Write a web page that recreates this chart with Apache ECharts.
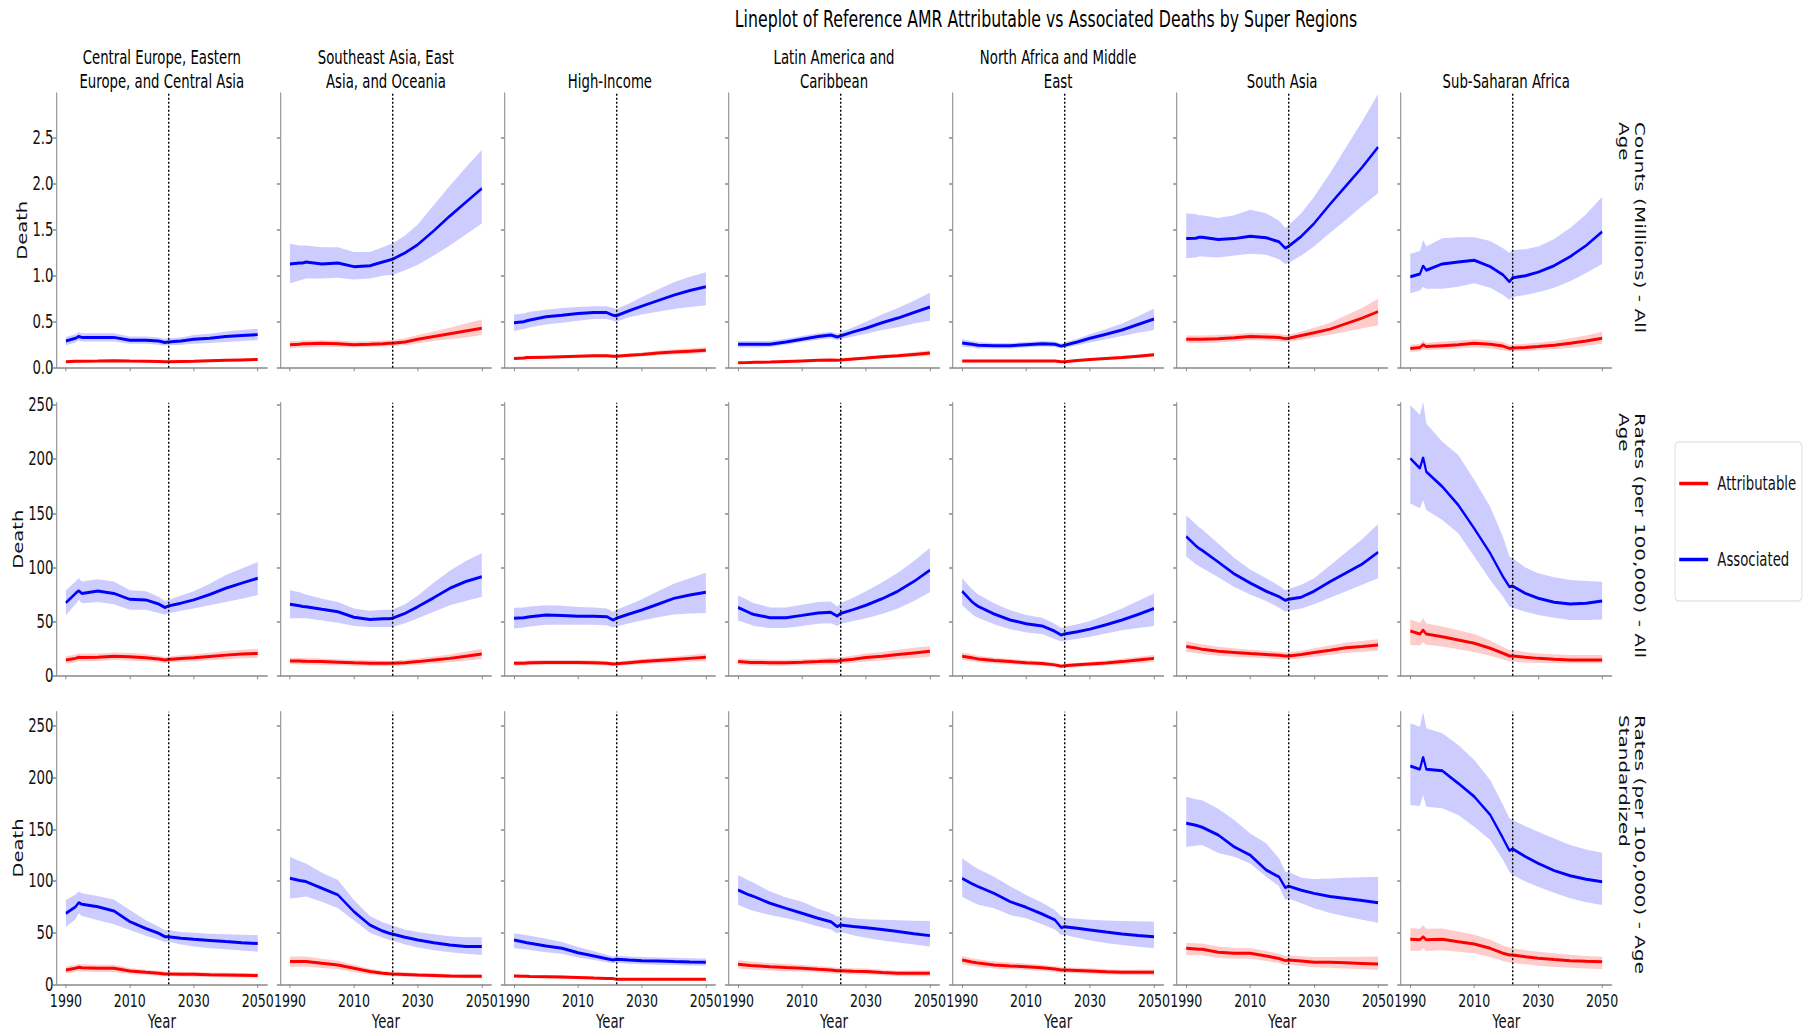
<!DOCTYPE html>
<html>
<head>
<meta charset="utf-8">
<script src="https://cdn.jsdelivr.net/npm/echarts@6/dist/echarts.min.js"></script>
<style>
html,body{margin:0;padding:0;overflow:hidden;background:#fff;width:1817px;height:1035px;}
#c{height:1035px;transform-origin:0 0;}
</style>
</head>
<body>
<div id="c"></div>
<script>
// ---------------- DATA ----------------
const YEARS = [1990, 1993, 1994, 1995, 2000, 2005, 2010, 2015, 2019, 2021, 2022, 2026, 2030, 2035, 2040, 2045, 2050];
const PROJECTION_YEAR = 2022;
const X_TICKS = [1990, 2010, 2030, 2050];
const Y_TICKS_COUNTS = [0, 0.5, 1.0, 1.5, 2.0, 2.5];
const Y_TICKS_RATES = [0, 50, 100, 150, 200, 250];
const REGIONS = [
  'Central Europe, Eastern\nEurope, and Central Asia',
  'Southeast Asia, East\nAsia, and Oceania',
  'High-Income',
  'Latin America and\nCaribbean',
  'North Africa and Middle\nEast',
  'South Asia',
  'Sub-Saharan Africa'
];
const ROW_LABELS = [
  'Counts (Millions) - All\nAge',
  'Rates (per 100,000) - All\nAge',
  'Rates (per 100,000) - Age\nStandardized'
];
const TITLE = 'Lineplot of Reference AMR Attributable vs Associated Deaths by Super Regions';

// Row 1: Counts (millions), one list per region (order of REGIONS)
const countsAssoc = [
  [0.29,0.32,0.34,0.33,0.33,0.33,0.30,0.30,0.29,0.275,0.28,0.29,0.31,0.32,0.34,0.35,0.36],
  [1.13,1.14,1.14,1.15,1.13,1.14,1.10,1.11,1.15,1.17,1.18,1.25,1.34,1.49,1.65,1.80,1.95],
  [0.49,0.50,0.51,0.52,0.555,0.57,0.59,0.60,0.60,0.57,0.565,0.62,0.67,0.73,0.79,0.84,0.88],
  [0.254,0.254,0.254,0.254,0.255,0.28,0.31,0.34,0.355,0.335,0.345,0.39,0.43,0.49,0.54,0.60,0.66],
  [0.27,0.255,0.25,0.245,0.24,0.24,0.25,0.26,0.255,0.235,0.245,0.28,0.32,0.365,0.41,0.47,0.53],
  [1.405,1.41,1.42,1.42,1.395,1.405,1.43,1.415,1.37,1.30,1.32,1.43,1.57,1.78,1.98,2.18,2.40],
  [0.99,1.02,1.11,1.06,1.13,1.15,1.17,1.10,1.01,0.935,0.98,1.00,1.04,1.11,1.21,1.33,1.48]
];
const countsAssocLo = [
  [0.245,0.275,0.295,0.285,0.285,0.285,0.26,0.26,0.25,0.24,0.245,0.25,0.26,0.27,0.28,0.29,0.30],
  [0.92,0.95,0.96,0.97,0.97,0.98,0.96,0.97,1.00,1.01,1.01,1.06,1.12,1.22,1.33,1.45,1.57],
  [0.40,0.42,0.43,0.44,0.47,0.49,0.51,0.53,0.53,0.51,0.50,0.55,0.58,0.61,0.64,0.66,0.68],
  [0.22,0.22,0.22,0.22,0.225,0.25,0.28,0.305,0.32,0.30,0.31,0.34,0.37,0.41,0.44,0.48,0.51],
  [0.23,0.22,0.215,0.21,0.21,0.21,0.22,0.23,0.225,0.21,0.215,0.245,0.275,0.31,0.345,0.38,0.41],
  [1.19,1.20,1.21,1.21,1.20,1.22,1.24,1.23,1.18,1.13,1.14,1.22,1.32,1.47,1.61,1.76,1.90],
  [0.81,0.84,0.88,0.86,0.86,0.88,0.92,0.87,0.79,0.74,0.77,0.79,0.82,0.87,0.94,1.03,1.13]
];
const countsAssocHi = [
  [0.335,0.365,0.385,0.375,0.375,0.375,0.34,0.34,0.33,0.315,0.32,0.33,0.355,0.37,0.395,0.41,0.425],
  [1.35,1.33,1.33,1.33,1.31,1.31,1.26,1.26,1.31,1.34,1.35,1.44,1.56,1.77,1.98,2.18,2.37],
  [0.58,0.59,0.60,0.61,0.63,0.65,0.66,0.67,0.67,0.65,0.64,0.70,0.77,0.85,0.93,0.99,1.04],
  [0.29,0.29,0.29,0.29,0.29,0.315,0.345,0.375,0.39,0.37,0.385,0.44,0.50,0.58,0.65,0.73,0.815],
  [0.31,0.29,0.285,0.28,0.27,0.27,0.28,0.29,0.285,0.26,0.275,0.315,0.365,0.42,0.48,0.56,0.645],
  [1.68,1.67,1.66,1.66,1.63,1.66,1.72,1.68,1.60,1.52,1.55,1.68,1.86,2.12,2.40,2.68,2.98],
  [1.24,1.27,1.39,1.32,1.41,1.42,1.42,1.38,1.30,1.25,1.28,1.29,1.32,1.40,1.52,1.67,1.86]
];
const countsAttr = [
  [0.065,0.07,0.07,0.07,0.072,0.075,0.072,0.07,0.068,0.065,0.065,0.068,0.07,0.075,0.08,0.085,0.09],
  [0.25,0.255,0.26,0.26,0.265,0.26,0.25,0.255,0.26,0.265,0.265,0.28,0.31,0.34,0.37,0.40,0.43],
  [0.10,0.105,0.11,0.11,0.115,0.12,0.125,0.13,0.13,0.125,0.125,0.135,0.145,0.16,0.17,0.18,0.19],
  [0.054,0.056,0.057,0.058,0.062,0.068,0.074,0.08,0.084,0.082,0.083,0.095,0.105,0.12,0.13,0.145,0.16],
  [0.072,0.072,0.072,0.072,0.072,0.072,0.072,0.073,0.072,0.065,0.066,0.078,0.09,0.10,0.11,0.125,0.14],
  [0.31,0.31,0.31,0.31,0.315,0.325,0.34,0.335,0.33,0.315,0.32,0.35,0.38,0.42,0.48,0.54,0.61],
  [0.21,0.22,0.25,0.23,0.24,0.25,0.265,0.255,0.235,0.21,0.215,0.22,0.23,0.245,0.265,0.29,0.32]
];
const countsAttrLo = [
  [0.055,0.06,0.06,0.06,0.062,0.064,0.062,0.06,0.058,0.055,0.055,0.058,0.06,0.064,0.068,0.072,0.075],
  [0.21,0.22,0.22,0.22,0.23,0.225,0.22,0.225,0.23,0.235,0.235,0.245,0.265,0.29,0.31,0.33,0.355],
  [0.085,0.09,0.09,0.095,0.10,0.105,0.11,0.115,0.115,0.11,0.11,0.115,0.125,0.135,0.145,0.15,0.16],
  [0.045,0.047,0.048,0.049,0.053,0.058,0.064,0.069,0.073,0.071,0.072,0.082,0.09,0.10,0.11,0.12,0.13],
  [0.062,0.062,0.062,0.062,0.062,0.062,0.062,0.063,0.062,0.056,0.057,0.068,0.078,0.087,0.095,0.107,0.12],
  [0.27,0.27,0.27,0.27,0.275,0.285,0.30,0.295,0.29,0.28,0.28,0.305,0.33,0.36,0.39,0.43,0.46],
  [0.17,0.18,0.20,0.19,0.20,0.21,0.22,0.21,0.19,0.175,0.18,0.185,0.19,0.20,0.215,0.235,0.26]
];
const countsAttrHi = [
  [0.075,0.08,0.08,0.08,0.082,0.086,0.082,0.08,0.078,0.075,0.075,0.078,0.08,0.086,0.092,0.098,0.105],
  [0.29,0.29,0.295,0.295,0.30,0.295,0.285,0.29,0.295,0.30,0.30,0.32,0.355,0.395,0.435,0.48,0.525],
  [0.115,0.12,0.125,0.125,0.13,0.135,0.14,0.145,0.145,0.14,0.14,0.155,0.165,0.185,0.20,0.21,0.225],
  [0.063,0.065,0.066,0.067,0.071,0.078,0.084,0.091,0.095,0.093,0.094,0.108,0.12,0.14,0.15,0.17,0.19],
  [0.082,0.082,0.082,0.082,0.082,0.082,0.082,0.083,0.082,0.074,0.075,0.088,0.102,0.114,0.126,0.143,0.16],
  [0.35,0.35,0.35,0.35,0.355,0.365,0.38,0.375,0.37,0.355,0.36,0.395,0.435,0.49,0.57,0.65,0.75],
  [0.25,0.26,0.30,0.27,0.285,0.295,0.31,0.30,0.28,0.25,0.255,0.26,0.275,0.29,0.32,0.35,0.39]
];

// Row 2: Rates per 100,000, all age
const ratesAssoc = [
  [67.4,76,78.5,76,78.2,76,70.5,70,66.2,63,64.3,67,70,75,80.7,85.5,90],
  [66,64.5,64,63.7,61.3,59,54,52,52.6,52.6,53,57.6,63.7,72,80.7,87,91.4],
  [53,53.5,54,54.5,56,55.5,55,55,54.5,51.4,53,57,60.7,66,71.4,74.5,77],
  [63,59,57.5,56.5,53.6,53.6,55.7,58,58.5,55,57.5,61,65,71,78,87,97.5],
  [78,68.5,66,64,57,51.5,48,46,41,37.5,38.6,40.5,43,47,51.5,56.5,62],
  [128.5,120,117.5,115.7,105,94,85.6,78,73,69.6,70.6,72.5,78,86.8,95,103,114],
  [200.7,191.5,201.7,188.4,174.6,157.6,136,113,91.4,82.2,82.8,76,71.5,67.8,66.2,66.8,69]
];
const ratesAssocLo = [
  [56,66,70,67,68,66,61,61,58,56.5,57.6,60,62,65,68,71,74.5],
  [53,53,53,53,51,49,46,45,45,45,45,48.5,53,59,65,69,73],
  [43.7,44.5,45,45.5,47,47,47,47,46.5,44.5,45.5,48.5,51,54,56.5,57.5,58],
  [51,48,47,46,44,44,46,48,48.5,46,48,50.5,53,57,62,69,77],
  [65,57,55,53.5,47.5,43,40,38.5,34,31.5,32.3,34,36,39,42,44,46],
  [110,103,101,99.5,91,82,75,69,63,59,60,62,66,72,78,84,90],
  [159,154.6,162,153,143.8,131.5,110,88.4,73,63.7,62.8,59,56,53.5,51.4,51.5,52]
];
const ratesAssocHi = [
  [79,87,90,87,89,87,79,78,73,69,70,74,78,85,93,99,105],
  [79,77,76,75,71,68,62,60,61,61,61,66,74,86,97,106,113],
  [62.8,63,63.5,64,65,64.5,63.5,63,62,59,61,65.5,70.5,78,85,90,95],
  [74,70,68,67,63,63,65.5,68,68.5,64,67,72,78,86,95,106,118],
  [90,80,77.5,75,67,60.5,56,53.5,48,44,45,47.5,50.5,56,62,69,76],
  [148,140,137,135,122,109,98,90,83,79,80,84,90,102,114,126,140],
  [250,240.8,253,233,216,203.8,180.7,156,128,110,108.4,100,94.6,91,88.4,87.5,86.8]
];
const ratesAttr = [
  [14.5,16,17,16.8,17,18,17.5,16.6,15.5,14.5,15,15.8,16.6,17.8,19,20,20.6],
  [13.5,13.5,13.4,13.3,13,12.5,12,11.6,11.4,11.4,11.4,12,13,14.5,16,18,20],
  [11.4,11.6,11.8,12,12.3,12.3,12.3,12,11.5,10.8,11,12,13,14,15,16,17],
  [13,12.5,12.3,12.2,12,12,12.4,13,13.6,13.4,14,15.3,16.8,18,19.5,21,22.5],
  [18,16.5,16,15.5,14,13,12,11.3,10,8.7,9.2,10,10.8,11.8,13,14.5,16],
  [27,25.5,25,24.5,22.6,21.5,20.4,19.5,18.8,18.3,18.3,19.5,21.5,23.5,25.8,27,28.3],
  [41.3,38.5,42.2,38.5,36,33,30,25.3,20.7,18.2,18.2,17,16,15.2,14.5,14.5,14.5]
];
const ratesAttrLo = [
  [11,12.5,13.5,13.3,13.5,14.5,14,13.3,12.5,11.8,12.2,12.8,13.4,14.3,15.2,16,16.5],
  [10.5,10.5,10.4,10.3,10.1,9.7,9.3,9,8.9,8.9,8.9,9.3,10.1,11.2,12.4,13.8,15.2],
  [9.2,9.4,9.6,9.8,10.1,10.1,10.1,9.8,9.4,8.8,9,9.8,10.6,11.4,12.2,12.8,13.5],
  [10,9.6,9.4,9.3,9.2,9.2,9.6,10.1,10.6,10.4,10.9,11.9,13,14,15.1,16.3,17.5],
  [14.5,13.3,12.9,12.5,11.3,10.5,9.7,9.1,8,7,7.4,8,8.7,9.5,10.4,11.6,12.8],
  [22,21,20.5,20,18.5,17.6,16.8,16,15.4,15,15,16,17.6,19.2,21,22,23],
  [28.3,28,31,28.5,27,24.5,22,18.5,15,13,13,12.2,11.8,11.6,11.4,11.4,11.4]
];
const ratesAttrHi = [
  [18,19.5,20.5,20.3,20.5,21.5,21,20,18.5,17.2,17.8,18.8,19.8,21.3,22.8,24,25],
  [16.5,16.5,16.4,16.3,15.9,15.3,14.7,14.2,13.9,13.9,13.9,14.7,15.9,17.8,19.6,22.2,24.8],
  [13.6,13.8,14,14.2,14.5,14.5,14.5,14.2,13.6,12.8,13,14.2,15.4,16.6,17.8,19.2,20.5],
  [16,15.4,15.2,15.1,14.8,14.8,15.2,15.9,16.6,16.4,17.1,18.7,20.6,22,23.9,25.7,27.5],
  [21.5,19.7,19.1,18.5,16.7,15.5,14.3,13.5,12,10.4,11,12,12.9,14.1,15.6,17.4,19.2],
  [32,30,29.5,29,26.7,25.4,24,23,22.2,21.6,21.6,23,25.4,27.8,30.6,32,33.6],
  [52,49,53,48.5,45.5,42,38.5,32.5,26.5,23.7,23.7,22,20.5,19.8,19.2,19,19]
];

// Row 3: Rates per 100,000, age standardized
const asRatesAssoc = [
  [68.7,75,79,77.5,75,71,60.6,54,49.4,46,46,44.5,43.5,42.4,41.3,40.3,39.4],
  [102.6,100.5,100,99.4,92.9,86.5,70.3,57.4,51.5,49.4,48.7,45.5,42.9,40.3,38,36.5,36.5],
  [42.9,41,40.3,39.7,37,34.8,30.6,27.4,24.8,23.5,24.2,23.5,22.9,22.5,22,21.6,21.3],
  [91.3,87,86,84.8,78.4,73.5,68.7,63.9,60.6,55.8,57.4,56,54.8,53,51,49,47.1],
  [102.6,97.5,96,94.5,88,80,74.5,68,62.3,54.8,55.8,54.2,52.6,50.6,48.7,47.2,46],
  [155.8,154,153,152,144.5,133,125,110.6,104,93.5,95,91,88,85,83,81,79],
  [211.3,208,220.3,208,206.7,194.5,181.6,163.9,141.3,129.3,131,123.5,117,110,105,101.6,99.3]
];
const asRatesAssocLo = [
  [55.8,63,68.7,66,62,58,52.6,47,43,41,41.3,38.5,36.5,35,33.8,32.6,31.6],
  [83,84,84.5,85,80,73.5,62,50,45,43,42.5,38.5,35.5,33,31,29.5,28.4],
  [34.8,34,33.6,33.2,31,29.5,26,23.5,21.3,20.3,20.8,20,19.5,19,18.6,18.3,18],
  [76.8,73,72,71,67,64,60.6,56,53,49.4,50.5,47.5,45,42.5,40.5,38.5,36.5],
  [84.8,80,78.5,77,73.5,67,63.9,58,53,47.7,48,45,42.5,40,38,36.3,34.8],
  [133,134,134.5,134.8,127,123.5,117,104,95,81.6,83,78.5,73.5,69,65.5,62.5,59.6],
  [173.5,172.5,183.2,171.9,170.3,163.9,152.5,139.7,120.3,109,105.8,99.5,94.5,88.5,83.2,79.5,76.8]
];
const asRatesAssocHi = [
  [81.6,87,89.7,88,85.5,82,72,62,56,52,52.6,50.5,50,49,48.5,48,47.7],
  [123.5,119,118,117,108,101,81.6,66,60,58,57,53,50.5,48.5,46.5,45.5,45.5],
  [49.4,48,47.5,47,44,41,36,32,28.5,26.8,27.6,27,26.5,26,25.6,25.3,25],
  [105.8,101,99.5,98,89.7,84,80,73,69,65.5,65.5,64,63,62.5,62,61.5,61.3],
  [122,115.5,113.5,111.5,104,95,86.5,79,72,65.5,64.5,63.5,62.5,61.8,61.2,60.9,60.6],
  [181.6,179,178.5,178,170,159,146,136.5,122,109,109,103,102,102.5,103,103.5,104],
  [252.6,249.3,263.5,247.8,243,231.6,217,197.7,173.5,160.7,159,153,147.7,141,134.8,130.5,127.4]
];
const asRatesAttr = [
  [13.9,15.5,16.5,16,15.5,15.5,12.9,11.6,10.6,10,10,9.8,9.7,9.3,9,8.7,8.4],
  [22,22,22,22,20.3,18.7,15.5,12.3,10.8,10.2,10,9.5,9,8.6,8,7.8,7.7],
  [8,7.8,7.7,7.6,7.4,7,6.5,6,5.7,5.5,4.8,4.8,4.8,4.8,4.8,4.8,4.8],
  [19.4,18.5,18.2,18,17,16.2,15.5,14.5,13.8,13.2,13.2,12.7,12.3,11.4,10.6,10.6,10.6],
  [23.5,21.5,21,20.5,18.7,17.8,17,16,14.8,13.9,13.9,13.4,12.9,12.2,11.6,11.6,11.6],
  [34.8,34.2,34,33.9,31,30,30,27.4,25,22.9,23.5,22.5,21.3,21.3,20.8,20.2,19.6],
  [43.5,43,46,43,43.5,41.2,39,34.8,30,28.4,28.4,26.7,25.2,24,22.9,22.3,21.9]
];
const asRatesAttrLo = [
  [10.5,12,13,12.5,12,12,10,9,8.2,7.8,7.8,7.5,7.4,7.1,6.8,6.5,6.2],
  [17,17,17,17,15.8,14.5,12,9.6,8.5,8,7.9,7.4,7,6.6,6.1,5.9,5.8],
  [6.5,6.3,6.2,6.1,6,5.6,5.2,4.8,4.5,4.3,3.8,3.8,3.8,3.8,3.8,3.8,3.8],
  [15.4,14.6,14.3,14.1,13.3,12.7,12.1,11.3,10.8,10.3,10.3,9.8,9.4,8.7,8,7.9,7.8],
  [19.5,17.7,17.2,16.8,15.3,14.5,13.8,13,12,11.2,11.2,10.7,10.2,9.6,9,8.9,8.8],
  [28.4,28.2,28.1,28,25.5,24.8,24.8,22.5,20.5,18.5,19,17.8,16.5,16,15.2,14.5,13.9],
  [32.5,32.3,35,32.3,33,31.5,30,26.5,22.5,21,20.3,19.3,18,16.8,16,15.2,14.5]
];
const asRatesAttrHi = [
  [17.3,19,20,19.5,19,19,15.8,14.2,13,12.2,12.2,12.1,12,11.5,11.2,10.9,10.6],
  [27,27,27,27,24.8,22.9,19,15,13.1,12.4,12.1,11.6,11,10.6,9.9,9.7,9.6],
  [9.5,9.3,9.2,9.1,8.8,8.4,7.8,7.2,6.9,6.7,5.8,5.8,5.8,5.8,5.8,5.8,5.8],
  [23.4,22.4,22.1,21.9,20.7,19.7,18.9,17.7,16.8,16.1,16.1,15.6,15.2,14.1,13.2,13.3,13.4],
  [27.5,25.3,24.8,24.2,22.1,21.1,20.2,19,17.6,16.6,16.6,16.1,15.6,14.8,14.2,14.3,14.4],
  [40,39.8,39.6,39.5,36.5,35.2,35.2,32.3,29.5,27.3,28,27.2,26.5,26.5,26.6,26.7,26.8],
  [54.2,53.8,57.5,53.8,54,51,48,43,37.5,35.5,34.8,33,31.5,30,28.5,27.5,26.7]
];

// ---------------- LAYOUT / STYLE ----------------
const S = 0.7;                 // horizontal compression of the whole picture
const W = 1817 / S;
const fx = v => v / S;
const FONT = 'DejaVu Sans';
const AXIS_COLOR = '#8a8a8a';
const RED = '#ff0000', BLUE = '#0000ff';
const RED_BAND = 'rgba(255,0,0,0.2)', BLUE_BAND = 'rgba(0,0,255,0.2)';
const COL_LEFT0 = 56.3, COL_STEP = 224.07, COL_W = 211;
const ROW_TOP = [93, 402.7, 711.7], ROW_H = [274.7, 273, 272.6];
const ROW_MAX = [2.99, 252.1, 263.8];
const ROW_LABEL_Y = [122, 413, 715];

const el = document.getElementById('c');
el.style.width = W + 'px';
el.style.transform = 'scaleX(' + S + ')';
const chart = echarts.init(el, null, {renderer: 'svg'});

const rowData = [
  [countsAssoc, countsAssocLo, countsAssocHi, countsAttr, countsAttrLo, countsAttrHi],
  [ratesAssoc, ratesAssocLo, ratesAssocHi, ratesAttr, ratesAttrLo, ratesAttrHi],
  [asRatesAssoc, asRatesAssocLo, asRatesAssocHi, asRatesAttr, asRatesAttrLo, asRatesAttrHi]
];

function band(name, gi, lo, hi, color) {
  return {
    type: 'custom', name: name, xAxisIndex: gi, yAxisIndex: gi, clip: true, silent: true, z: 1,
    data: [[YEARS[0], lo[0]]],
    encode: {x: 0, y: 1},
    renderItem: function (params, api) {
      const pts = [];
      for (let i = 0; i < YEARS.length; i++) pts.push(api.coord([YEARS[i], hi[i]]));
      for (let i = YEARS.length - 1; i >= 0; i--) pts.push(api.coord([YEARS[i], lo[i]]));
      return {type: 'polygon', shape: {points: pts}, style: {fill: color}};
    }
  };
}
function line(name, gi, vals, color, withMark) {
  const s = {
    type: 'line', name: name, xAxisIndex: gi, yAxisIndex: gi, z: 3,
    data: YEARS.map((y, i) => [y, vals[i]]),
    showSymbol: false, symbol: 'none', color: color,
    itemStyle: {color: color},
    lineStyle: {color: color, width: 3},
    silent: true
  };
  if (withMark) {
    s.markLine = {
      silent: true, symbol: ['none', 'none'], label: {show: false}, animation: false,
      lineStyle: {color: '#000', type: [2, 2], width: 2},
      data: [{xAxis: PROJECTION_YEAR}]
    };
  }
  return s;
}

const grids = [], xAxes = [], yAxes = [], series = [], titles = [], graphics = [];
titles.push({
  text: TITLE, left: fx(1046), top: 8, textAlign: 'center', padding: 0,
  textStyle: {fontFamily: FONT, fontSize: 22.5, fontWeight: 'normal', color: '#000'}
});
for (let k = 0; k < 7; k++) {
  const nLines = REGIONS[k].split('\n').length;
  titles.push({
    text: REGIONS[k], left: fx(COL_LEFT0 + COL_STEP * k + COL_W / 2), top: 93 - 23.3 * nLines,
    textAlign: 'center', padding: 0,
    textStyle: {fontFamily: FONT, fontSize: 19, lineHeight: 23.3, fontWeight: 'normal', color: '#000'}
  });
}
for (let r = 0; r < 3; r++) {
  const yt = r === 0 ? Y_TICKS_COUNTS : Y_TICKS_RATES;
  for (let k = 0; k < 7; k++) {
    const gi = r * 7 + k;
    grids.push({left: fx(COL_LEFT0 + COL_STEP * k), top: ROW_TOP[r], width: fx(COL_W), height: ROW_H[r]});
    xAxes.push({
      gridIndex: gi, type: 'value', min: 1987, max: 2053,
      axisLine: {show: true, onZero: false, lineStyle: {color: AXIS_COLOR, width: 1.5}},
      axisTick: {show: true, length: 3.5, customValues: X_TICKS, lineStyle: {color: AXIS_COLOR, width: 1.5}},
      axisLabel: {show: r === 2, customValues: X_TICKS, margin: 7.5, fontFamily: FONT, fontSize: 18,
        lineHeight: 18, color: '#111', formatter: v => String(v)},
      splitLine: {show: false},
      name: r === 2 ? 'Year' : '', nameLocation: 'middle', nameGap: 28,
      nameTextStyle: {fontFamily: FONT, fontSize: 19, color: '#111'}
    });
    yAxes.push({
      gridIndex: gi, type: 'value', min: 0, max: ROW_MAX[r],
      axisLine: {show: true, lineStyle: {color: AXIS_COLOR, width: 1.5}},
      axisTick: {show: true, length: 5, customValues: yt, lineStyle: {color: AXIS_COLOR, width: 1.5}},
      axisLabel: {show: k === 0, customValues: yt, margin: 4, fontFamily: FONT, fontSize: 19, lineHeight: 14,
        color: '#111', formatter: v => r === 0 ? Number(v).toFixed(1) : String(v)},
      splitLine: {show: false},
      name: k === 0 ? 'Death' : '', nameLocation: 'middle', nameRotate: 90, nameGap: 39,
      nameTextStyle: {fontFamily: FONT, fontSize: 19.5, color: '#111'}
    });
    const d = rowData[r];
    series.push(band('Associated band', gi, d[1][k], d[2][k], BLUE_BAND));
    series.push(band('Attributable band', gi, d[4][k], d[5][k], RED_BAND));
    series.push(line('Attributable', gi, d[3][k], RED, false));
    series.push(line('Associated', gi, d[0][k], BLUE, true));
  }
  graphics.push({
    type: 'text', x: fx(1632), y: ROW_LABEL_Y[r], rotation: -Math.PI / 2, silent: true,
    style: {text: ROW_LABELS[r], font: '20px "DejaVu Sans"', align: 'left', verticalAlign: 'middle',
      lineHeight: 23.5, fill: '#111'}
  });
}

chart.setOption({
  animation: false,
  backgroundColor: '#fff',
  title: titles,
  grid: grids,
  xAxis: xAxes,
  yAxis: yAxes,
  series: series,
  graphic: graphics,
  legend: {
    orient: 'vertical', left: fx(1675), top: 442,
    padding: [32, 8, 32, 6], itemGap: 57, itemWidth: fx(29), itemHeight: 3.5,
    backgroundColor: '#fff', borderColor: '#d9d9d9', borderWidth: 1.2, borderRadius: 5,
    textStyle: {fontFamily: FONT, fontSize: 19, lineHeight: 19, color: '#111', padding: [0, 0, 0, 8]},
    data: [{name: 'Attributable', icon: 'rect'}, {name: 'Associated', icon: 'rect'}],
    selectedMode: false
  }
});
</script>
</body>
</html>
